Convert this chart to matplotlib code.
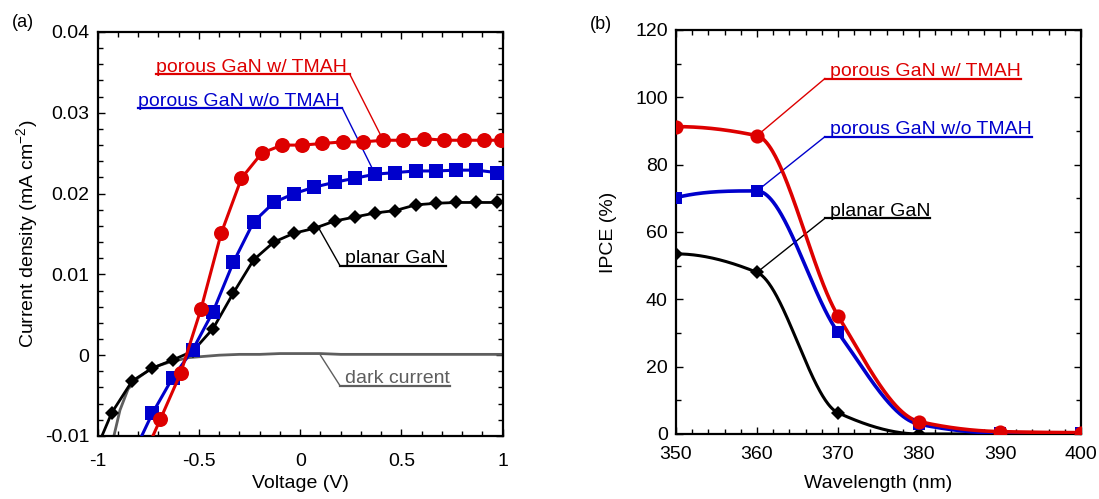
import numpy as np
import matplotlib
matplotlib.use("Agg")
import matplotlib.pyplot as plt
from matplotlib.ticker import FixedLocator, MultipleLocator, FixedFormatter

plt.rcParams['font.family'] = ['Liberation Sans', 'DejaVu Sans']
plt.rcParams['font.size'] = 14
plt.rcParams['axes.unicode_minus'] = False
plt.rcParams['mathtext.fontset'] = 'custom'
plt.rcParams['mathtext.rm'] = 'Liberation Sans'

# ---------------- (a) J-V curves ----------------
v_wtmah = [-0.79, -0.69, -0.59, -0.49, -0.39, -0.29, -0.19, -0.09, 0.01, 0.11, 0.21,
           0.31, 0.41, 0.51, 0.61, 0.71, 0.81, 0.91, 0.99]
j_wtmah = [-0.0135, -0.0079, -0.0022, 0.0057, 0.0151, 0.0219, 0.0250, 0.0260, 0.0260,
           0.0262, 0.0264, 0.0264, 0.0266, 0.0266, 0.0268, 0.0266, 0.0266, 0.0266, 0.0266]

v_wotmah = [-0.83, -0.73, -0.63, -0.53, -0.43, -0.33, -0.23, -0.13, -0.03, 0.07, 0.17,
            0.27, 0.37, 0.47, 0.57, 0.67, 0.77, 0.87, 0.97]
j_wotmah = [-0.0125, -0.0072, -0.0028, 0.0007, 0.0054, 0.0115, 0.0165, 0.0189, 0.0200,
            0.0208, 0.0214, 0.0219, 0.0224, 0.0226, 0.0228, 0.0228, 0.0229, 0.0229, 0.0226]

v_planar = [-1.03, -0.93, -0.83, -0.73, -0.63, -0.53, -0.43, -0.33, -0.23, -0.13, -0.03,
            0.07, 0.17, 0.27, 0.37, 0.47, 0.57, 0.67, 0.77, 0.87, 0.97]
j_planar = [-0.0130, -0.0071, -0.0032, -0.0016, -0.0006, 0.0005, 0.0033, 0.0077, 0.0118,
            0.0140, 0.0151, 0.0157, 0.0166, 0.0171, 0.0176, 0.0179, 0.0186, 0.0188,
            0.0189, 0.0189, 0.0189]

v_dark = [-0.95, -0.92, -0.89, -0.85, -0.80, -0.75, -0.70, -0.65, -0.60, -0.55, -0.50,
          -0.45, -0.40, -0.30, -0.20, -0.10, 0.0, 0.10, 0.20, 0.40, 0.60, 0.80, 1.0]
j_dark = [-0.0135, -0.0100, -0.0068, -0.0042, -0.0028, -0.0019, -0.0013, -0.0009,
          -0.0006, -0.0003, -0.0002, -0.0001, 0.0000, 0.0001, 0.0001, 0.0002, 0.0002,
          0.0002, 0.0001, 0.0001, 0.0001, 0.0001, 0.0001]

xticks_a = [-1, -0.5, 0, 0.5, 1]
xlabels_a = ['-1', '-0.5', '0', '0.5', '1']
yticks_a = [-0.01, 0, 0.01, 0.02, 0.03, 0.04]
ylabels_a = ['-0.01', '0', '0.01', '0.02', '0.03', '0.04']

# ---------------- (b) IPCE spectra ----------------
wl = [350, 360, 370, 380, 390, 400]
ipce_wtmah = [91.3, 88.6, 35.1, 3.7, 0.7, 0.4]
ipce_wotmah = [70.2, 72.2, 30.2, 2.9, 0.3, 0.3]
ipce_planar = [53.5, 48.0, 6.3, 0.0, 0.0, 0.0]

xticks_b = [350, 360, 370, 380, 390, 400]
yticks_b = [0, 20, 40, 60, 80, 100, 120]

RED = '#dd0000'
BLUE = '#0000cc'
BLACK = '#000000'
GRAY = '#5e5e5e'


def pchip_curve(x, y, n=600):
    """Monotone piecewise-cubic Hermite curve through (x, y)."""
    x = np.asarray(x, float)
    y = np.asarray(y, float)
    h = np.diff(x)
    d = np.diff(y) / h
    k = len(x)
    m = np.zeros(k)
    for i in range(1, k - 1):
        if d[i - 1] * d[i] > 0:
            w1 = 2 * h[i] + h[i - 1]
            w2 = h[i] + 2 * h[i - 1]
            m[i] = (w1 + w2) / (w1 / d[i - 1] + w2 / d[i])
    def end_slope(h0, h1, d0, d1):
        s = ((2 * h0 + h1) * d0 - h0 * d1) / (h0 + h1)
        if np.sign(s) != np.sign(d0):
            s = 0.0
        elif np.sign(d0) != np.sign(d1) and abs(s) > abs(3 * d0):
            s = 3 * d0
        return s
    m[0] = end_slope(h[0], h[1], d[0], d[1])
    m[-1] = end_slope(h[-1], h[-2], d[-1], d[-2])
    xs = np.linspace(x[0], x[-1], n)
    idx = np.clip(np.searchsorted(x, xs) - 1, 0, k - 2)
    hh = h[idx]
    t = (xs - x[idx]) / hh
    h00 = 2 * t ** 3 - 3 * t ** 2 + 1
    h10 = t ** 3 - 2 * t ** 2 + t
    h01 = -2 * t ** 3 + 3 * t ** 2
    h11 = t ** 3 - t ** 2
    ys = h00 * y[idx] + h10 * hh * m[idx] + h01 * y[idx + 1] + h11 * hh * m[idx + 1]
    return xs, ys


def style_axes(ax):
    for s in ax.spines.values():
        s.set_linewidth(1.6)
    ax.tick_params(which='both', direction='in', top=True, right=True, width=1.0)
    ax.tick_params(which='major', length=5.2)
    ax.tick_params(which='minor', length=3.3)


fig = plt.figure(figsize=(10.99, 4.99), dpi=100)
ax1 = fig.add_axes([0.0889, 0.1263, 0.3685, 0.8096])
ax2 = fig.add_axes([0.6151, 0.1303, 0.3685, 0.8096])

# (a)
ax1.plot(v_dark, j_dark, color=GRAY, lw=2.0, zorder=2)
ax1.plot(v_planar, j_planar, color=BLACK, lw=2.0, marker='D', ms=7, mew=0, zorder=3)
ax1.plot(v_wotmah, j_wotmah, color=BLUE, lw=2.2, marker='s', ms=9.5, mew=0, zorder=4)
ax1.plot(v_wtmah, j_wtmah, color=RED, lw=2.2, marker='o', ms=10.8, mew=0, zorder=5)
ax1.set_xlim(-1, 1)
ax1.set_ylim(-0.01, 0.04)
ax1.xaxis.set_major_locator(FixedLocator(xticks_a))
ax1.xaxis.set_major_formatter(FixedFormatter(xlabels_a))
ax1.xaxis.set_minor_locator(MultipleLocator(0.1))
ax1.yaxis.set_major_locator(FixedLocator(yticks_a))
ax1.yaxis.set_major_formatter(FixedFormatter(ylabels_a))
ax1.yaxis.set_minor_locator(MultipleLocator(0.002))
style_axes(ax1)
ax1.tick_params(axis='x', pad=12)
ax1.tick_params(axis='y', pad=6)
ax1.set_xlabel('Voltage (V)', labelpad=4)
ax1.set_ylabel('Current density (mA cm$^{-2}$)', labelpad=3)

# (b)
for y, c, m, ms, lw in [(ipce_planar, BLACK, 'D', 7, 2.2),
                        (ipce_wotmah, BLUE, 's', 8.8, 2.6),
                        (ipce_wtmah, RED, 'o', 10.2, 2.6)]:
    xs, ys = pchip_curve(wl, y)
    ax2.plot(xs, ys, color=c, lw=lw, zorder=3)
    ax2.plot(wl, y, ls='none', marker=m, ms=ms, mew=0, color=c, zorder=4)
ax2.set_xlim(350, 400)
ax2.set_ylim(0, 120)
ax2.xaxis.set_major_locator(FixedLocator(xticks_b))
ax2.xaxis.set_minor_locator(MultipleLocator(2))
ax2.yaxis.set_major_locator(FixedLocator(yticks_b))
ax2.yaxis.set_minor_locator(MultipleLocator(10))
style_axes(ax2)
ax2.tick_params(axis='x', pad=9)
ax2.tick_params(axis='y', pad=6)
ax2.set_xlabel('Wavelength (nm)', labelpad=8)
ax2.set_ylabel('IPCE (%)', labelpad=13)

fig.text(0.011, 0.954, '(a)', fontsize=13, va='center', ha='left')
fig.text(0.537, 0.950, '(b)', fontsize=13, va='center', ha='left')

# underlined call-out labels with leader lines
callouts = [
    (ax1, 'porous GaN w/ TMAH', RED, (0.144, 0.901), 'right', (0.41, 0.0266)),
    (ax1, 'porous GaN w/o TMAH', BLUE, (0.0988, 0.817), 'right', (0.37, 0.0224)),
    (ax1, 'planar GaN', BLACK, (0.611, 0.427), 'left', (0.09, 0.0158)),
    (ax1, 'dark current', GRAY, (0.611, 0.130), 'left', (0.10, 0.0)),
    (ax2, 'porous GaN w/ TMAH', RED, (0.380, 0.886), 'left', (360, 88.6)),
    (ax2, 'porous GaN w/o TMAH', BLUE, (0.380, 0.742), 'left', (360, 72.2)),
    (ax2, 'planar GaN', BLACK, (0.380, 0.540), 'left', (360, 48.0)),
]
texts = []
for ax, s, c, pos, side, tgt in callouts:
    t = ax.text(pos[0], pos[1], s, color=c, transform=ax.transAxes,
                ha='left', va='baseline', fontsize=14)
    texts.append(t)

fig.canvas.draw()
renderer = fig.canvas.get_renderer()
for (ax, s, c, pos, side, tgt), t in zip(callouts, texts):
    bb = t.get_window_extent(renderer)
    base = ax.transAxes.transform(pos)[1] - 2.5
    x0, x1 = bb.x0, bb.x1
    if side == 'left':
        x0 -= 5
        anchor = (x0, base)
    else:
        x1 += 3
        anchor = (x1, base)
    inv = ax.transData.inverted()
    p0 = inv.transform((x0, base))
    p1 = inv.transform((x1, base))
    pa = inv.transform(anchor)
    ax.plot([p0[0], p1[0]], [p0[1], p1[1]], color=c, lw=1.6, clip_on=False, zorder=6)
    ax.plot([pa[0], tgt[0]], [pa[1], tgt[1]], color=c, lw=1.0, clip_on=False, zorder=2.5)

fig.savefig('out.png', dpi=100)
